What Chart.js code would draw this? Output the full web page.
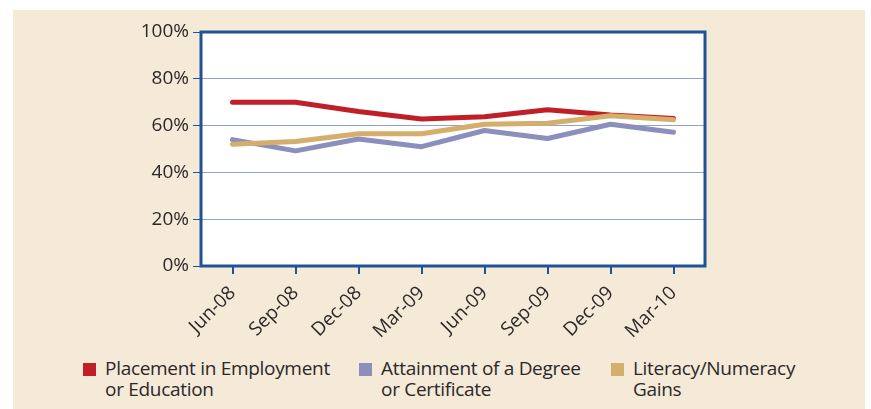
<html>
<head>
<script src="https://cdn.jsdelivr.net/npm/chart.js"></script>
<style>
  body { margin:0; background:#fff; font-family: "Open Sans", Lato, sans-serif; }
  #box { position:absolute; left:13px; top:10px; width:852px; height:399px; background:#f5e9d8; }
  #wrap { position:absolute; left:0; top:0; width:852px; height:340px; }
  .leg { position:absolute; top:348px; font-size:19px; line-height:21px; color:#2b2829; letter-spacing:-0.3px; }
  .leg i { position:absolute; left:-22px; top:5px; width:13px; height:13px; }
</style>
</head>
<body>
<div id="box">
  <div id="wrap"><canvas id="myChart"></canvas></div>
  <div class="leg" style="left:92px"><i style="background:#c11f28"></i>Placement in Employment<br>or Education</div>
  <div class="leg" style="left:368px"><i style="background:#8a8fbb"></i>Attainment of a Degree<br>or Certificate</div>
  <div class="leg" style="left:620px"><i style="background:#d4ae6a"></i>Literacy/Numeracy<br>Gains</div>
</div>
<script>
var labels = ["Jun-08", "Sep-08", "Dec-08", "Mar-09", "Jun-09", "Sep-09", "Dec-09", "Mar-10"];
var placement = [70, 70, 66, 62.8, 63.8, 66.8, 64.5, 63];
var attainment = [54, 49.2, 54.3, 51, 57.9, 54.5, 60.6, 57.2];
var literacy = [52, 53.2, 56.5, 56.5, 60.6, 61, 64.2, 62.5];

var navy = "#1f5394";

// white plot area + blue frame
var frame = {
  id: 'frame',
  beforeDraw: function(chart) {
    var a = chart.chartArea, ctx = chart.ctx;
    ctx.save();
    ctx.fillStyle = "#fff";
    ctx.fillRect(a.left, a.top, a.right - a.left, a.bottom - a.top);
    ctx.restore();
  },
  beforeDatasetsDraw: function(chart) {
    var a = chart.chartArea, ctx = chart.ctx;
    ctx.save();
    ctx.strokeStyle = navy;
    ctx.lineWidth = 3;
    ctx.strokeRect(a.left, a.top, a.right - a.left, a.bottom - a.top);
    ctx.restore();
  }
};

var ds = function(label, data, color, order) {
  return { label: label, data: data, borderColor: color, backgroundColor: color,
    borderWidth: 5, pointRadius: 0, tension: 0, fill: false, order: order,
    borderCapStyle: 'round', borderJoinStyle: 'round' };
};

var ctx = document.getElementById('myChart').getContext('2d');
var myChart = new Chart(ctx, {
  type: 'line',
  data: {
    labels: labels,
    datasets: [
      ds("Placement in Employment or Education", placement, "#c11f28", 1),
      ds("Attainment of a Degree or Certificate", attainment, "#8a8fbb", 2),
      ds("Literacy/Numeracy Gains", literacy, "#d4ae6a", 0)
    ]
  },
  options: {
    responsive: true,
    maintainAspectRatio: false,
    animation: false,
    layout: { padding: { top: 22, right: 160, left: 0, bottom: 0 } },
    plugins: { legend: { display: false }, tooltip: { enabled: false } },
    scales: {
      x: {
        offset: true,
        afterFit: function(s) { s.height = 84; },
        grid: { drawOnChartArea: false, tickLength: 8, tickColor: navy, lineWidth: 2 },
        border: { display: false },
        ticks: { minRotation: 45, maxRotation: 45, padding: 8, color: "#2b2829",
          font: { family: "Open Sans", size: 19 } }
      },
      y: {
        min: 0, max: 100,
        afterFit: function(s) { s.width = 188; },
        grid: { color: "#8ea3cf", lineWidth: 1, tickLength: 8, tickColor: navy },
        border: { display: false },
        ticks: { stepSize: 20, padding: 4, color: "#2b2829",
          font: { family: "Open Sans", size: 19 },
          callback: function(v) { return v + '%'; } }
      }
    }
  },
  plugins: [frame]
});
</script>
</body>
</html>
